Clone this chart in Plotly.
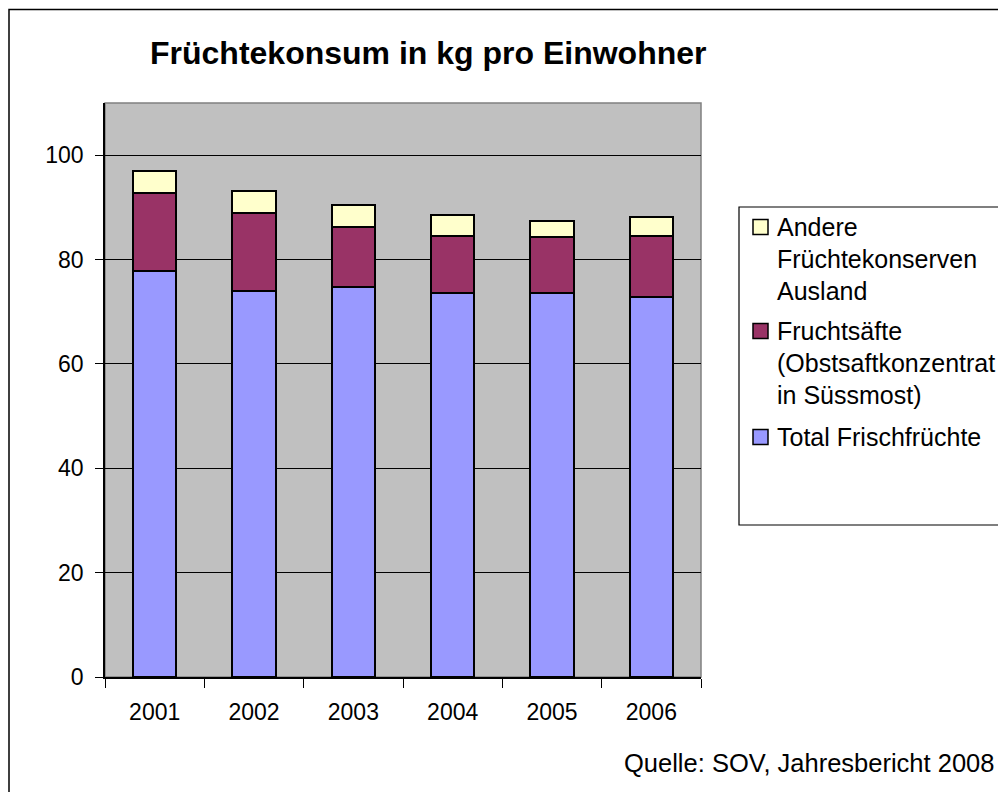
import plotly.graph_objects as go

years = ["2001", "2002", "2003", "2004", "2005", "2006"]
frisch = [77.8, 73.9, 74.7, 73.5, 73.5, 72.8]
saefte = [14.9, 15.0, 11.5, 11.1, 10.8, 11.8]
andere = [4.2, 4.2, 4.2, 3.9, 3.1, 3.6]

names = ["Total Frischfrüchte",
         "Fruchtsäfte (Obstsaftkonzentrat in Süssmost)",
         "Andere Früchtekonserven Ausland"]
colors = ["#9999FF", "#993366", "#FFFFCC"]
legend_lines = [["Total Frischfrüchte"],
                ["Fruchtsäfte", "(Obstsaftkonzentrat", "in Süssmost)"],
                ["Andere", "Früchtekonserven", "Ausland"]]

FONT = "Liberation Sans, Arial, sans-serif"

fig = go.Figure()
for vals, name, col in zip([frisch, saefte, andere], names, colors):
    fig.add_trace(go.Bar(x=years, y=vals, name=name, marker=dict(color=col, line=dict(color="black", width=2)),
                         showlegend=False))

# page offset from default body margin
OFF = 8
FW, FH = 1006 - OFF, 792 - OFF
# plot area geometry in page pixels
L, R, T, B = 105, 701, 103, 677
W, H = R - L, B - T
def px(x):
    return (x - L) / W
def py(y):
    return (B - y) / H

shapes = []
annotations = []
# outer chart border
shapes.append(dict(type="rect", xref="paper", yref="paper", x0=px(9), x1=px(1014), y0=py(9.5), y1=py(800),
                   line=dict(color="black", width=1.5), fillcolor="rgba(0,0,0,0)", layer="below"))
# plot area grey border
shapes.append(dict(type="rect", xref="paper", yref="paper", x0=0, x1=1, y0=0, y1=1,
                   line=dict(color="#808080", width=1.5), layer="below"))
# legend box
shapes.append(dict(type="rect", xref="paper", yref="paper", x0=px(739), x1=px(1014), y0=py(525), y1=py(207),
                   line=dict(color="black", width=1.2), fillcolor="white"))

# legend entries (top to bottom: Andere, Fruchtsäfte, Total)
entry_y = [[437], [331, 363, 395], [227, 259, 291]]
for lines, ys, col in zip(legend_lines, entry_y, colors):
    y0 = ys[0]
    shapes.append(dict(type="rect", xref="paper", yref="paper", x0=px(753), x1=px(768),
                       y0=py(y0 + 7.5), y1=py(y0 - 7.5), line=dict(color="black", width=1.5), fillcolor=col))
    for txt, yy in zip(lines, ys):
        annotations.append(dict(text=txt, xref="paper", yref="paper", x=px(775), y=py(yy),
                                xanchor="left", yanchor="middle", showarrow=False,
                                font=dict(family=FONT, size=25, color="black")))

# title
annotations.append(dict(text="<b>Früchtekonsum in kg pro Einwohner</b>", xref="paper", yref="paper",
                        x=px(428), y=py(53), xanchor="center", yanchor="middle", showarrow=False,
                        font=dict(family=FONT, size=32, color="black")))
# source
annotations.append(dict(text="Quelle: SOV, Jahresbericht 2008", xref="paper", yref="paper",
                        x=px(996), y=py(763), xanchor="right", yanchor="middle", showarrow=False,
                        font=dict(family=FONT, size=25.5, color="black")))

fig.update_layout(
    width=FW, height=FH,
    margin=dict(l=L - OFF, r=1006 - R, t=T - OFF, b=792 - B, pad=0),
    barmode="stack", bargap=0.567,
    plot_bgcolor="#C0C0C0", paper_bgcolor="white",
    font=dict(family=FONT, size=23, color="black"),
    shapes=shapes, annotations=annotations,
    xaxis=dict(showline=True, linecolor="black", linewidth=1.5, ticks="outside", tickson="boundaries",
               ticklen=9, tickcolor="black", tickwidth=1.2, showgrid=False, ticklabelstandoff=14,
               tickfont=dict(size=23)),
    yaxis=dict(range=[0, 110], dtick=20, tick0=0, showline=True, linecolor="black", linewidth=1.5,
               ticks="outside", ticklen=8, tickcolor="black", tickwidth=1.2,
               showgrid=True, gridcolor="black", gridwidth=1.2, zeroline=False,
               ticklabelstandoff=7, tickfont=dict(size=23)),
)

fig.write_html("out.html")
